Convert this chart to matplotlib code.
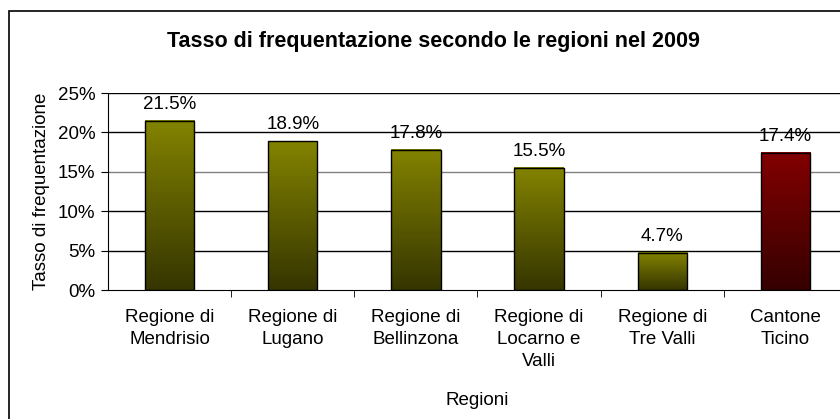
import numpy as np
import matplotlib.pyplot as plt
from matplotlib.colors import LinearSegmentedColormap
from matplotlib.patches import Rectangle

plt.rcParams['font.family'] = ['Liberation Sans', 'DejaVu Sans']

# Data
categories = ['Regione di\nMendrisio', 'Regione di\nLugano', 'Regione di\nBellinzona',
              'Regione di\nLocarno e\nValli', 'Regione di\nTre Valli', 'Cantone\nTicino']
values = [21.5, 18.9, 17.8, 15.5, 4.7, 17.4]
labels = ['21.5%', '18.9%', '17.8%', '15.5%', '4.7%', '17.4%']
highlight = [False, False, False, False, False, True]

olive = LinearSegmentedColormap.from_list('olive', ['#353500', '#838300'])
red = LinearSegmentedColormap.from_list('red', ['#350000', '#830000'])

fig = plt.figure(figsize=(8.4, 4.19), dpi=100)
# outer chart frame (cropped on right and bottom)
fig.patches.append(Rectangle((9 / 840, -0.1), 1.2, 1 - 11 / 419 + 0.1,
                             transform=fig.transFigure, fill=False,
                             edgecolor='black', linewidth=1.2))

ax = fig.add_axes([108 / 840, 1 - 290 / 419, (847 - 108) / 840, (290 - 93) / 419])

x = np.arange(len(values))
width = 0.4
grad = np.linspace(0, 1, 256).reshape(-1, 1)

# horizontal gridlines
for yv in [5, 10, 15, 20, 25]:
    ax.axhline(yv, color='#808080' if yv == 15 else 'black', linewidth=1, zorder=1)

for xi, v, lab, hl in zip(x, values, labels, highlight):
    ax.imshow(grad, cmap=red if hl else olive, origin='lower', aspect='auto',
              extent=(xi - width / 2, xi + width / 2, 0, v), zorder=2)
    ax.bar(xi, v, width=width, fill=False, edgecolor='black', linewidth=1, zorder=3)
    ax.text(xi, v + 1.0, lab, ha='center', va='bottom', fontsize=13.5)

ax.set_xlim(-0.5, len(values) - 0.5)
ax.set_ylim(0, 25)
ax.set_yticks([0, 5, 10, 15, 20, 25])
ax.set_yticklabels(['0%', '5%', '10%', '15%', '20%', '25%'], fontsize=13.5)
ax.set_xticks(x)
ax.set_xticklabels(categories, fontsize=13.5, linespacing=1.35)
ax.set_xticks(np.arange(len(values)) + 0.5, minor=True)
ax.tick_params(axis='x', which='major', length=0, pad=14)
ax.tick_params(axis='x', which='minor', length=5, direction='out')
ax.tick_params(axis='y', length=5, direction='out', pad=4)

for s in ['top', 'right']:
    ax.spines[s].set_visible(False)

ax.set_ylabel('Tasso di frequentazione', fontsize=13.5, labelpad=6)
ax.set_xlabel('Regioni', fontsize=13.5, labelpad=16)
fig.text(433 / 840, 1 - 42 / 419, 'Tasso di frequentazione secondo le regioni nel 2009',
         ha='center', va='center', fontsize=15.5, fontweight='bold')

fig.savefig('out.png', dpi=100)
